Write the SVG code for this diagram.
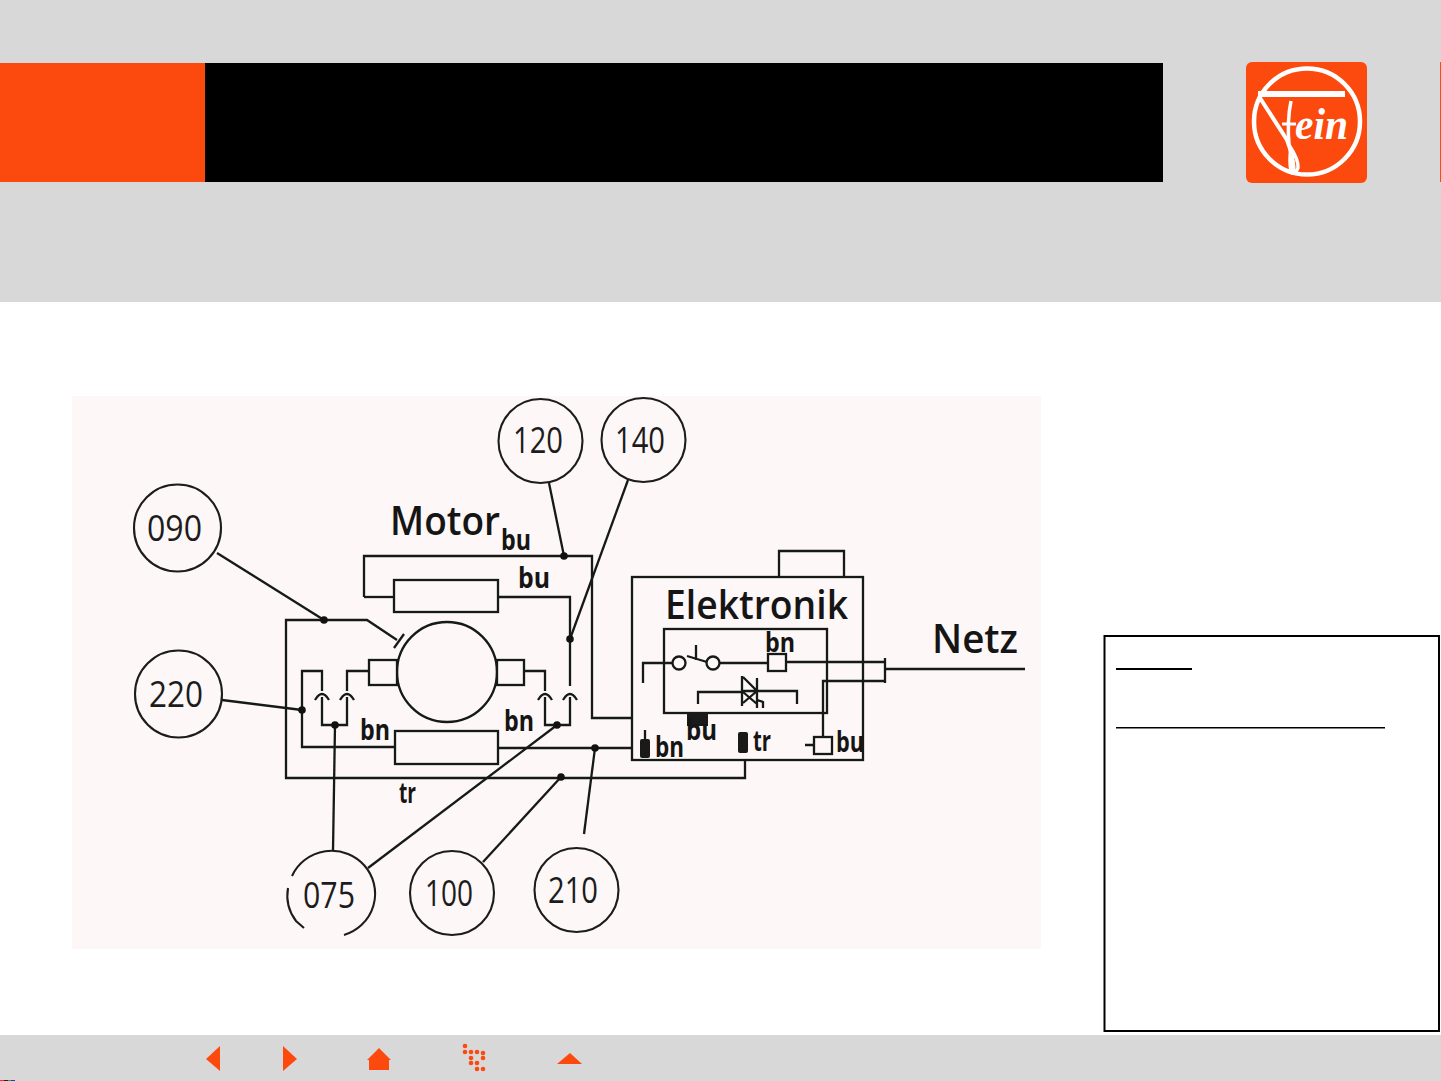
<svg xmlns="http://www.w3.org/2000/svg" width="1441" height="1081" viewBox="0 0 1441 1081">
<style>
.ln{fill:none;stroke:#151a15;stroke-width:2.300}
.box{fill:#fdf7f7;stroke:#151a15;stroke-width:2.300}
.cir{fill:none;stroke:#1c1c1c;stroke-width:2.100}
.num{font-family:"Open Sans","Noto Sans",sans-serif;font-size:36px;font-weight:400;fill:#1c1c1c}
.lab{font-family:"Open Sans","Noto Sans",sans-serif;font-weight:700;fill:#151515}
.big{font-size:40px;font-weight:600}
.sm{font-size:28px}
.dot{fill:#111}
.or{fill:#fc4a0e}
</style>
<rect width="1441" height="1081" fill="#fff"/>
<g id="header">
<rect width="1441" height="302" fill="#d8d8d8"/>
<rect y="63" width="205" height="119" class="or"/>
<rect x="205" y="63" width="958" height="119" fill="#000"/>
<rect x="1440" y="62" width="1" height="120" class="or"/>
</g>
<g id="logo">
<rect x="1246" y="62" width="121" height="121" rx="6" class="or"/>
<circle cx="1307" cy="121.5" r="53" fill="none" stroke="#fff" stroke-width="4.500"/>
<path d="M1258 94H1345" fill="none" stroke="#fff" stroke-width="6"/>
<path d="M1260 98L1287 140Q1293 155 1294 172" fill="none" stroke="#fff" stroke-width="4"/>
<path d="M1291 101Q1287 120 1289 145Q1299 160 1298 168Q1295 176 1291 172Q1289 160 1291 148" fill="none" stroke="#fff" stroke-width="3.500"/>
<path d="M1282 124H1296" fill="none" stroke="#fff" stroke-width="3"/>
<text x="1295" y="139" font-family="Liberation Serif,serif" font-style="italic" font-weight="700" font-size="44" fill="#fff" textLength="53" lengthAdjust="spacingAndGlyphs">ein</text>
</g>
<rect id="panel" x="72" y="396" width="969" height="553" fill="#fdf7f7"/>
<g id="connectors">
<path class="ln" d="M217 553L324 620"/>
<path class="ln" d="M222 700L302 710"/>
<path class="ln" d="M549 483L564 556"/>
<path class="ln" d="M628 480L570 639"/>
<path class="ln" d="M333 851L335 725"/>
<path class="ln" d="M368 868L557 725"/>
<path class="ln" d="M483 862L561 777"/>
<path class="ln" d="M584 834L595 748"/>
<path class="ln" d="M364 597V556H592V718H632"/>
<path class="ln" d="M364 597H394"/>
<path class="ln" d="M498 597H570V686"/>
<path class="ln" d="M397 640L367 620H286V778H745V760"/>
<path class="ln" d="M394 648L404 634"/>
<path class="ln" d="M369 671H347V691"/>
<path class="ln" d="M347 697V725H322V697"/>
<path class="ln" d="M322 691V671H302V747H395"/>
<path class="ln" d="M524 671H545V691"/>
<path class="ln" d="M545 697V725H570V697"/>
<path class="ln" d="M498 748H632"/>
<path class="ln" d="M315 700Q322 688 329 700M340 700Q347 688 354 700M538 700Q545 688 552 700M563 700Q570 688 577 700"/>
<circle class="dot" cx="564" cy="556" r="3.800"/>
<circle class="dot" cx="570" cy="639" r="3.800"/>
<circle class="dot" cx="324" cy="620" r="3.800"/>
<circle class="dot" cx="302" cy="710" r="3.800"/>
<circle class="dot" cx="335" cy="725" r="3.800"/>
<circle class="dot" cx="557" cy="725" r="3.800"/>
<circle class="dot" cx="595" cy="748" r="3.800"/>
<circle class="dot" cx="561" cy="777" r="3.800"/>
</g>
<g id="motor">
<circle cx="447" cy="672" r="50" class="box"/>
<rect class="box" x="369" y="660" width="28" height="25"/>
<rect class="box" x="497" y="660" width="27" height="25"/>
<rect class="box" x="394" y="580" width="104" height="32"/>
<rect class="box" x="395" y="731" width="103" height="33"/>
<text class="lab big" x="390" y="535" textLength="110" lengthAdjust="spacingAndGlyphs">Motor</text>
<text class="lab sm" x="501" y="550" textLength="30" lengthAdjust="spacingAndGlyphs">bu</text>
<text class="lab sm" x="518" y="588" textLength="32" lengthAdjust="spacingAndGlyphs">bu</text>
<text class="lab sm" x="360" y="740" textLength="30" lengthAdjust="spacingAndGlyphs">bn</text>
<text class="lab sm" x="504" y="731" textLength="30" lengthAdjust="spacingAndGlyphs">bn</text>
<text class="lab sm" x="399" y="803" textLength="17" lengthAdjust="spacingAndGlyphs">tr</text>
</g>
<g id="elektronik">
<rect class="ln" x="632" y="577" width="231" height="183"/>
<path class="ln" d="M779 577V551H844V577"/>
<rect class="ln" x="664" y="629" width="163" height="84"/>
<path class="ln" d="M643 683V663H673M720 663H768M786 662H885M885 681H823V737M805 745H814M687 656L707 662M696 645V660M885 658V683"/>
<circle class="ln" cx="679" cy="663" r="6.500"/>
<circle class="ln" cx="713" cy="663" r="6.500"/>
<rect class="ln" x="768" y="654" width="18" height="17"/>
<rect class="ln" x="814" y="737" width="18" height="17"/>
<path class="ln" d="M698 704V692H742M757 691H797V704M742 676V706M743 677L757 691L743 703M757 678V708M757 691L743 691M757 704L743 692M757 700L763 702V708"/>
<rect x="687" y="713" width="21" height="13" fill="#1a1a1a"/>
<rect x="640" y="739" width="10" height="19" rx="2" fill="#1a1a1a"/>
<path class="ln" d="M645 730V739"/>
<rect x="738" y="732" width="10" height="21" rx="2" fill="#1a1a1a"/>
<text class="lab big" x="665" y="619" textLength="183" lengthAdjust="spacingAndGlyphs">Elektronik</text>
<text class="lab sm" x="765" y="652" font-size="26" style="font-size:26px" textLength="30" lengthAdjust="spacingAndGlyphs">bn</text>
<text class="lab sm" x="686" y="740" textLength="31" lengthAdjust="spacingAndGlyphs">bu</text>
<text class="lab sm" x="655" y="757" textLength="29" lengthAdjust="spacingAndGlyphs">bn</text>
<text class="lab sm" x="753" y="751" textLength="18" lengthAdjust="spacingAndGlyphs">tr</text>
<text class="lab sm" x="836" y="752" textLength="28" lengthAdjust="spacingAndGlyphs">bu</text>
</g>
<g id="netz">
<path class="ln" d="M885 669H1025"/>
<text class="lab big" x="932" y="653" textLength="86" lengthAdjust="spacingAndGlyphs">Netz</text>
</g>
<g id="n120"><circle class="cir" cx="540.500" cy="441" r="42"/><text class="num" x="513" y="453" textLength="50" lengthAdjust="spacingAndGlyphs">120</text></g>
<g id="n140"><circle class="cir" cx="643.500" cy="440" r="42"/><text class="num" x="615" y="453" textLength="50" lengthAdjust="spacingAndGlyphs">140</text></g>
<g id="n090"><circle class="cir" cx="177.500" cy="528" r="43.500"/><text class="num" x="147" y="541" textLength="55" lengthAdjust="spacingAndGlyphs">090</text></g>
<g id="n220"><circle class="cir" cx="178.500" cy="694" r="43.500"/><text class="num" x="149" y="707" textLength="54" lengthAdjust="spacingAndGlyphs">220</text></g>
<g id="n075"><path class="cir" d="M292 876A43.500 43 0 1 1 344 935M304 928L296 921A43.500 43 0 0 1 288 888"/><text class="num" x="303" y="908" textLength="52" lengthAdjust="spacingAndGlyphs">075</text></g>
<g id="n100"><circle class="cir" cx="452" cy="893" r="42"/><text class="num" x="425" y="906" textLength="48" lengthAdjust="spacingAndGlyphs">100</text></g>
<g id="n210"><circle class="cir" cx="576.500" cy="890" r="42"/><text class="num" x="548" y="903" textLength="50" lengthAdjust="spacingAndGlyphs">210</text></g>
<g id="legend">
<rect x="1104.500" y="636" width="334.500" height="395" fill="#fff" stroke="#000" stroke-width="2"/>
<rect x="1116" y="668" width="76" height="2"/>
<rect x="1116" y="727" width="269" height="1.500"/>
</g>
<g id="footer">
<rect y="1035" width="1441" height="46" fill="#d8d8d8"/>
<path class="or" d="M220 1046V1071L206 1059Z"/>
<path class="or" d="M283 1046V1071L297 1059Z"/>
<path class="or" d="M379 1048L391 1060H389V1070H369V1060H367Z"/>
<path class="or" d="M570 1053L582 1064H557Z"/>
<g class="or">
<circle cx="465" cy="1046" r="2.300"/><circle cx="465" cy="1052" r="2.300"/><circle cx="471" cy="1052" r="2.300"/><circle cx="477" cy="1052" r="2.300"/><circle cx="483" cy="1053" r="2.300"/><circle cx="471" cy="1058" r="2.300"/><circle cx="483" cy="1058" r="2.300"/><circle cx="471" cy="1063" r="2.300"/><circle cx="477" cy="1063" r="2.300"/><circle cx="477" cy="1069" r="2.300"/><circle cx="483" cy="1069" r="2.300"/>
</g>
<rect x="0" y="1080" width="4" height="1" fill="#e33"/><rect x="4" y="1080" width="4" height="1" fill="#222"/><rect x="8" y="1080" width="3" height="1" fill="#3a3"/><rect x="11" y="1080" width="4" height="1" fill="#33c"/>
</g>
</svg>
